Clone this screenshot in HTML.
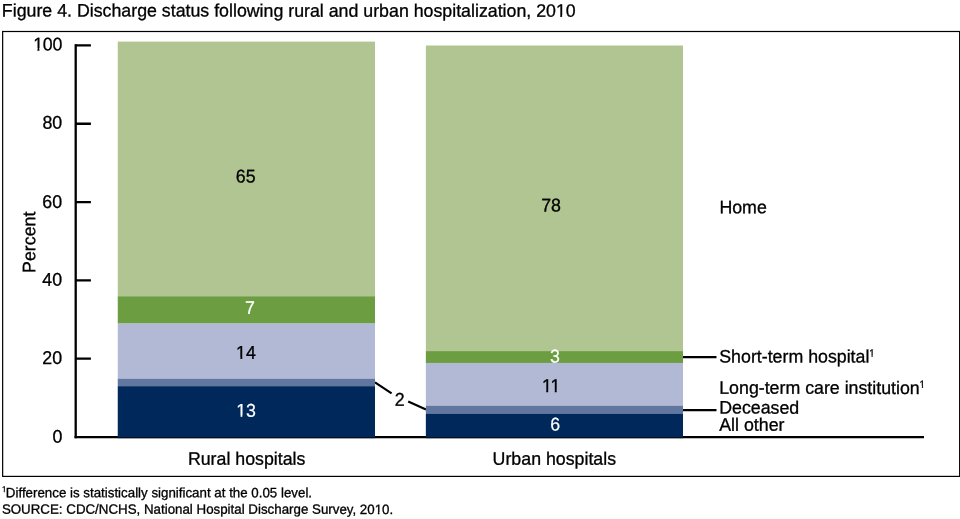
<!DOCTYPE html>
<html lang="en">
<head>
<meta charset="utf-8">
<title>Figure 4. Discharge status following rural and urban hospitalization, 2010</title>
<style>
html,body{margin:0;padding:0;background:#fff;}
body{width:960px;height:519px;overflow:hidden;}
svg{display:block;}
text{font-family:"Liberation Sans",Arial,Helvetica,sans-serif;fill:#000;font-size:17.7px;stroke:#000;stroke-width:0.3px;}
text.w{fill:#fff;stroke:#fff;stroke-width:0.2px;}
text.f{font-size:13.27px;stroke-width:0.3px;}
</style>
</head>
<body>
<svg width="960" height="519" viewBox="0 0 960 519">
<rect x="0" y="0" width="960" height="519" fill="#fff"/>
<rect x="2.65" y="31.5" width="957" height="444.9" fill="none" stroke="#000" stroke-width="1.2"/>
<g stroke="#000" stroke-width="2.3" fill="none">
<path d="M75.7 44.3V438.2"/>
<path d="M75 45.45H90.9M75 123.75H90.9M75 202.1H90.9M75 280.4H90.9M75 358.7H90.9"/>
<path d="M74.55 437.1H924" stroke-width="2.1"/>
<path d="M683 357.1H716.5M683 410.1H716.5" stroke-width="2.2"/>
<path d="M375 382.3L391.6 393.3M408.2 401.6L426 409.6" stroke-width="2.2"/>
</g>
<rect x="117.75" y="41.6" width="257.25" height="254.9" fill="#b1c592"/>
<rect x="117.75" y="296.3" width="257.25" height="27.3" fill="#6c9d40"/>
<rect x="117.75" y="323.4" width="257.25" height="55.5" fill="#b2b9d5"/>
<rect x="117.75" y="378.8" width="257.25" height="7.6" fill="#62779f"/>
<rect x="117.75" y="386.2" width="257.25" height="51.3" fill="#00285b"/>
<rect x="425.85" y="45.5" width="257.15" height="305.7" fill="#b1c592"/>
<rect x="425.85" y="351.1" width="257.15" height="11.9" fill="#6c9d40"/>
<rect x="425.85" y="362.9" width="257.15" height="43" fill="#b2b9d5"/>
<rect x="425.85" y="405.8" width="257.15" height="8.1" fill="#62779f"/>
<rect x="425.85" y="413.8" width="257.15" height="23.7" fill="#00285b"/>
<path d="M117.75 438.2H375M425.85 438.2H683" stroke="#000" stroke-opacity="0.3" stroke-width="0.8" fill="none"/>
<defs>
<clipPath id="c-title"><path clip-rule="evenodd" d="M-9 -21H580.3V9H-9ZM551.93 -1.76H555.88V3H551.93ZM557.77 -1.76H561.54V3H557.77Z"/></clipPath>
<clipPath id="c-y100"><path clip-rule="evenodd" d="M-9 -21H38.5V9H-9ZM0.73 -2.39H4.68V3H0.73ZM6.57 -2.39H10.34V3H6.57Z"/></clipPath>
<clipPath id="c-v14"><path clip-rule="evenodd" d="M-9 -21H28.7V9H-9ZM0.33 -1.63H4.28V3H0.33ZM6.17 -1.63H9.94V3H6.17Z"/></clipPath>
<clipPath id="c-v13"><path clip-rule="evenodd" d="M-9 -21H28.7V9H-9ZM0.33 -1.72H4.33V3H0.33ZM6.12 -1.72H9.94V3H6.12Z"/></clipPath>
<clipPath id="c-v11"><path clip-rule="evenodd" d="M-9 -21H27.4V9H-9ZM0.33 -1.91H4.28V3H0.33ZM6.17 -1.91H12.78V3H6.17ZM14.67 -1.92H18.45V3H14.67Z"/></clipPath>
<clipPath id="c-sup1"><path clip-rule="evenodd" d="M-9 -12H14.4V5H-9ZM-0.27 -1.53H2.29V3H-0.27ZM3.47 -1.53H5.93V3H3.47Z"/></clipPath>
<clipPath id="c-sup2"><path clip-rule="evenodd" d="M-9 -12H14.4V5H-9ZM-0.27 -1.72H2.29V3H-0.27ZM3.47 -1.72H5.93V3H3.47Z"/></clipPath>
<clipPath id="c-fsup"><path clip-rule="evenodd" d="M-9 -10H13.4V4H-9ZM-0.40 -1.05H1.84V3H-0.40ZM2.86 -1.05H5.02V3H2.86Z"/></clipPath>
<clipPath id="c-fn2"><path clip-rule="evenodd" d="M-9 -16H398.6V7H-9ZM371.13 -1.86H374.30V3H371.13ZM375.79 -1.86H378.83V3H375.79Z"/></clipPath>
</defs>
<text clip-path="url(#c-title)" transform="translate(1.85 16.50) rotate(0.03) scale(1.0045 1.02)">Figure 4. Discharge status following rural and urban hospitalization, 2010</text>
<text dx="0.4 -0.4" clip-path="url(#c-y100)" transform="translate(32.77 50.50) rotate(0.03) scale(1.0045 1.045)">100</text>
<text transform="translate(42.41 128.80) rotate(0.03) scale(1.0045 1.045)">80</text>
<text transform="translate(42.35 207.90) rotate(0.03) scale(1.0045 1.045)">60</text>
<text transform="translate(42.25 285.80) rotate(0.03) scale(1.0045 1.045)">40</text>
<text transform="translate(42.35 364.10) rotate(0.03) scale(1.0045 1.045)">20</text>
<text transform="translate(52.41 442.80) rotate(0.03) scale(1.0045 1.045)">0</text>
<text transform="translate(235.86 182.60) rotate(0.03) scale(1.0045 1.045)">65</text>
<text class="w" transform="translate(245.00 314.00) rotate(0.03) scale(1.0045 1.045)">7</text>
<text clip-path="url(#c-v14)" transform="translate(236.09 358.70) rotate(0.03) scale(1.0045 1.045)">14</text>
<text class="w" clip-path="url(#c-v13)" transform="translate(236.21 416.80) rotate(0.03) scale(1.0045 1.045)">13</text>
<text transform="translate(394.66 405.70) rotate(0.03) scale(1.0045 1.045)">2</text>
<text transform="translate(541.16 211.50) rotate(0.03) scale(1.0045 1.045)">78</text>
<text class="w" transform="translate(550.01 362.60) rotate(0.03) scale(1.0045 1.045)">3</text>
<text clip-path="url(#c-v11)" transform="translate(541.95 392.00) rotate(0.03) scale(1.0045 1.045)">11</text>
<text class="w" transform="translate(550.25 430.60) rotate(0.03) scale(1.0045 1.045)">6</text>
<text transform="translate(187.88 464.70) rotate(0.03) scale(1.0045 1.02)">Rural hospitals</text>
<text transform="translate(492.62 464.70) rotate(0.03) scale(1.0045 1.02)">Urban hospitals</text>
<text transform="translate(719.40 213.30) rotate(0.03) scale(1.0045 1.02)">Home</text>
<text transform="translate(719.27 362.50) rotate(0.03) scale(1.0045 1.02)">Short-term hospital</text>
<text transform="translate(719.23 393.80) rotate(0.03) scale(1.0045 1.02)">Long-term care institution</text>
<text transform="translate(719.23 413.60) rotate(0.03) scale(1.0045 1.02)">Deceased</text>
<text transform="translate(719.26 430.80) rotate(0.03) scale(1.0045 1.02)">All other</text>
<text clip-path="url(#c-sup1)" style="font-size:9.76px;stroke-width:0.3px" transform="translate(869.22 356.60) rotate(0.03) scale(1.0045 1.045)">1</text>
<text clip-path="url(#c-sup2)" style="font-size:9.76px;stroke-width:0.3px" transform="translate(919.62 387.80) rotate(0.03) scale(1.0045 1.045)">1</text>
<text clip-path="url(#c-fsup)" style="font-size:7.96px;stroke-width:0.3px" transform="translate(1.92 492.10) rotate(0.03) scale(1.0045 1.045)">1</text>
<text class="f" transform="translate(5.84 497.20) rotate(0.03) scale(1.0045 1.02)">Difference is statistically significant at the 0.05 level.</text>
<text class="f" clip-path="url(#c-fn2)" transform="translate(1.88 513.70) rotate(0.03) scale(1.0045 1.02)">SOURCE: CDC/NCHS, National Hospital Discharge Survey, 2010.</text>
<text transform="translate(35.30 272.90) rotate(-90) rotate(0.03) scale(1.0045 1.02)">Percent</text>
</svg>
</body>
</html>
